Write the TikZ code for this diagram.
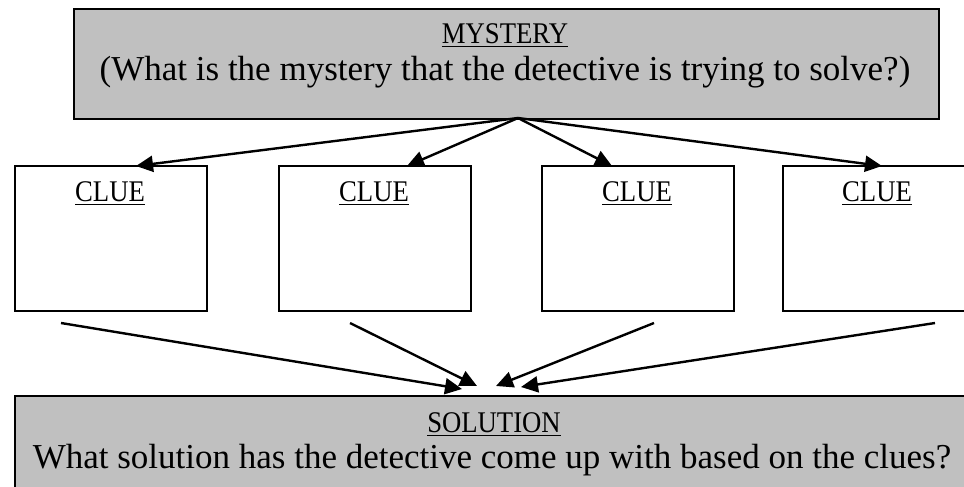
\documentclass[tikz,border=0pt]{standalone}
\usepackage{fontspec}
\setmainfont{Liberation Serif}
\usetikzlibrary{arrows.meta}
\definecolor{boxgray}{RGB}{192,192,192}
\newcommand{\cond}[1]{\scalebox{0.89}[1]{#1}}
\begin{document}
\begin{tikzpicture}[x=0.5pt,y=-0.5pt,
  box/.style={draw=black, line width=1.1pt, inner sep=0pt, anchor=north west},
  graybox/.style={box, fill=boxgray},
  whitebox/.style={box, fill=white},
  conn/.style={line width=1.2pt, -{Triangle[length=8.5pt,width=8pt]}},
  lbl/.style={font=\fontsize{17.5}{20}\selectfont, inner sep=0pt, anchor=base},
  title/.style={font=\fontsize{15}{18}\selectfont, inner sep=0pt, anchor=base}
]
\useasboundingbox (0,0) rectangle (964,487);
\clip (0,0) rectangle (964,487);
% mystery box
\node[graybox, minimum width=432.5pt, minimum height=55pt] (mystery) at (72.5,8) {};
\node[title] (mysteryT) at (505,43) {\cond{\underline{MYSTERY}}};
\node[lbl] (mysteryQ) at (505,80) {(What is the mystery that the detective is trying to solve?)};
% clue boxes
\node[whitebox, minimum width=96pt, minimum height=72.5pt] (c1) at (14,165) {};
\node[whitebox, minimum width=96pt, minimum height=72.5pt] (c2) at (278,165) {};
\node[whitebox, minimum width=96pt, minimum height=72.5pt] (c3) at (541,165) {};
\node[whitebox, minimum width=96pt, minimum height=72.5pt] (c4) at (782,165) {};
\node[title] (c1T) at (110,201) {\cond{\underline{CLUE}}};
\node[title] (c2T) at (374,201) {\cond{\underline{CLUE}}};
\node[title] (c3T) at (637,201) {\cond{\underline{CLUE}}};
\node[title] (c4T) at (877,201) {\cond{\underline{CLUE}}};
% solution box
\node[graybox, minimum width=500pt, minimum height=60pt] (solution) at (14,395) {};
\node[title] (solutionT) at (494,432) {\cond{\underline{SOLUTION}}};
\node[lbl] (solutionQ) at (492,468) {What solution has the detective come up with based on the clues?};
% connector points
\coordinate (apex) at (518,118);
\coordinate (t1) at (136,166);
\coordinate (t2) at (407,166);
\coordinate (t3) at (612,166);
\coordinate (t4) at (882,166);
\coordinate (s1) at (61,323);
\coordinate (s2) at (350,323);
\coordinate (s3) at (654,323);
\coordinate (s4) at (935,323);
\coordinate (e1) at (462,389);
\coordinate (e2) at (477,386);
\coordinate (e3) at (496,386);
\coordinate (e4) at (521,387);
\draw[conn] (apex) -- (t1);
\draw[conn] (apex) -- (t2);
\draw[conn] (apex) -- (t3);
\draw[conn] (apex) -- (t4);
\draw[conn] (s1) -- (e1);
\draw[conn] (s2) -- (e2);
\draw[conn] (s3) -- (e3);
\draw[conn] (s4) -- (e4);
\end{tikzpicture}
\end{document}
